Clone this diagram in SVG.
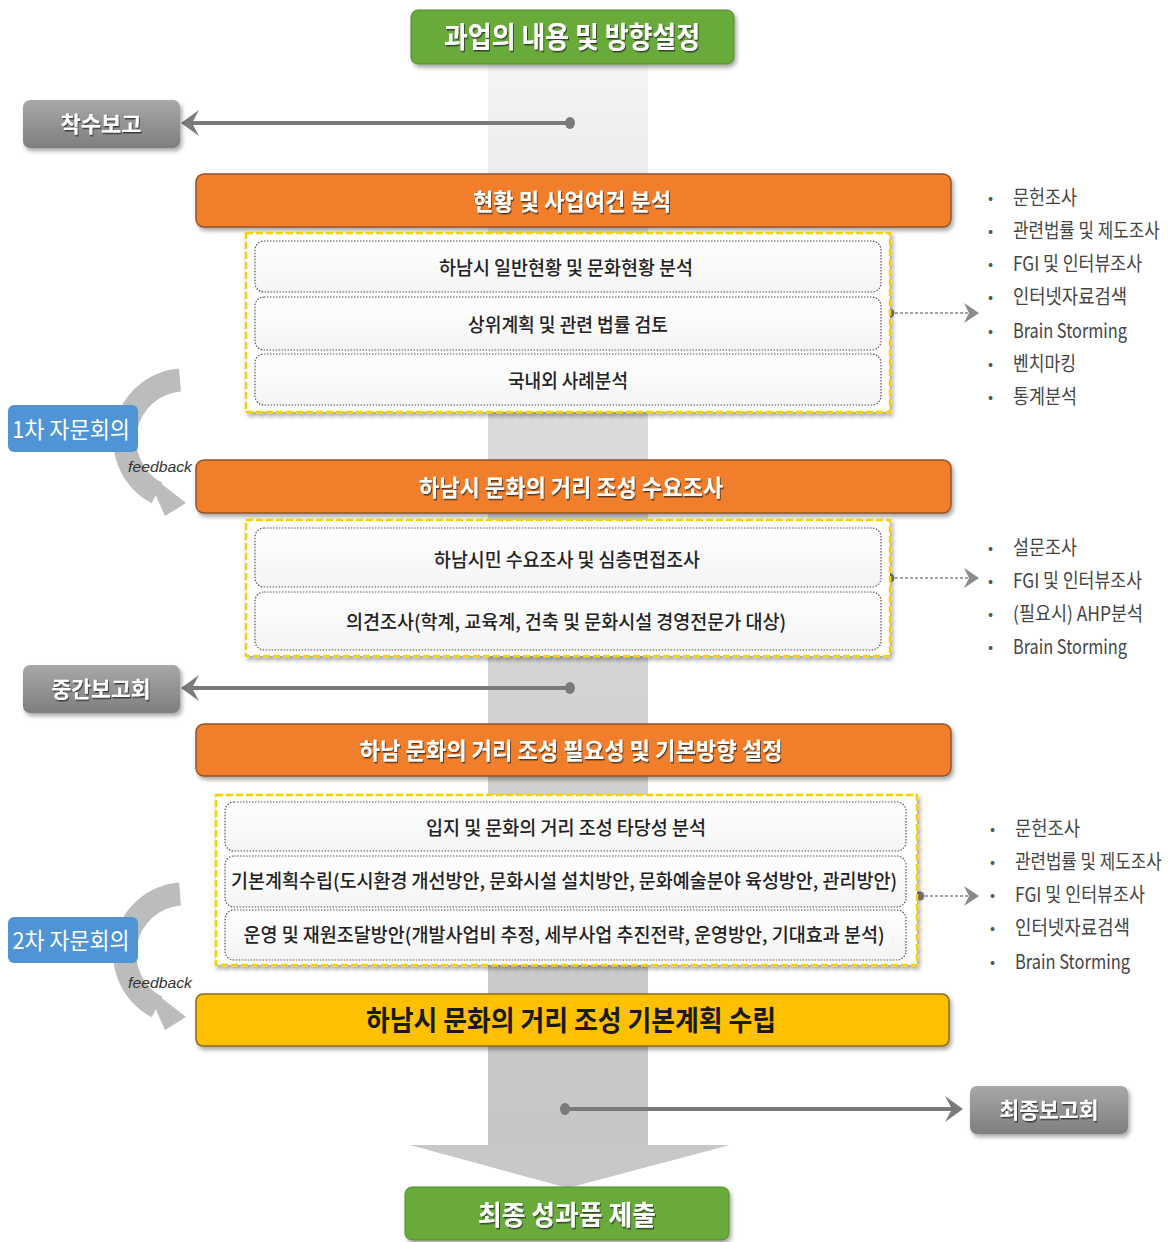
<svg xmlns="http://www.w3.org/2000/svg" width="1173" height="1242" viewBox="0 0 1173 1242">
<defs>
<linearGradient id="colGrad" x1="0" y1="0" x2="0" y2="1">
<stop offset="0" stop-color="#f5f5f7"/>
<stop offset="0.3" stop-color="#dcdcdc"/>
<stop offset="1" stop-color="#c6c6c6"/>
</linearGradient>
<linearGradient id="grayBox" x1="0" y1="0" x2="0" y2="1">
<stop offset="0" stop-color="#a8a8a8"/>
<stop offset="1" stop-color="#7e7e7e"/>
</linearGradient>
<linearGradient id="innerGrad" x1="0" y1="0" x2="0" y2="1">
<stop offset="0" stop-color="#ffffff"/>
<stop offset="1" stop-color="#f4f4f4"/>
</linearGradient>
<filter id="boxShadow" x="-10%" y="-30%" width="120%" height="170%">
<feDropShadow dx="2" dy="3" stdDeviation="2" flood-color="#000" flood-opacity="0.35"/>
</filter>
<filter id="txtShadow" x="-5%" y="-20%" width="110%" height="150%">
<feDropShadow dx="1" dy="1.5" stdDeviation="0.6" flood-color="#222" flood-opacity="0.75"/>
</filter>
</defs>
<style>
text{font-family:"Noto Sans CJK KR","Noto Sans",sans-serif}
.wt{fill:#fff;filter:url(#txtShadow);font-weight:600}
.ct{text-anchor:middle}
.inner{fill:url(#innerGrad);stroke:#555;stroke-width:1.2;stroke-dasharray:1.5 1.5}
.it{fill:#222;font-size:19px;text-anchor:middle;font-weight:500}
.yc{fill:#fff;stroke:#f2d300;stroke-width:2.5;stroke-dasharray:7 3;filter:url(#boxShadow)}
.orange{fill:#f07e2c;stroke:#93532a;stroke-width:1.5;filter:url(#boxShadow)}
.green{fill:#68ab3b;stroke:#4e8a2b;stroke-width:1;filter:url(#boxShadow)}
.gbox{fill:url(#grayBox);filter:url(#boxShadow)}
.blue{fill:#4f95d6}
.bl{fill:#444;font-size:20px}
.bu{fill:#555;font-size:15px}
.rep{stroke:#7a7a7a;stroke-width:4;fill:none}
.dash{stroke:#888;stroke-width:1.3;stroke-dasharray:3 2;fill:none}
.chev{fill:#7a7a7a}
.fb{fill:none;stroke:#bcbcbc;stroke-width:23}
.fbh{fill:#bcbcbc}
.fbt{font-family:"Liberation Sans",Arial,sans-serif;font-style:italic;font-size:15px;fill:#333}
</style>

<g id="column">
<rect x="488" y="60" width="160" height="1086" fill="url(#colGrad)"/>
<polygon points="410,1145 730,1145 568,1188" fill="#c8c8c8"/>
</g>

<g id="connectors">
<line class="rep" x1="570" y1="123" x2="188" y2="123"/>
<ellipse cx="570" cy="123" rx="5" ry="6" fill="#7a7a7a"/>
<polygon class="chev" points="181,123 199,110 192,123 199,136"/>
<line class="rep" x1="570" y1="688" x2="188" y2="688"/>
<ellipse cx="570" cy="688" rx="5" ry="6" fill="#7a7a7a"/>
<polygon class="chev" points="181,688 199,675 192,688 199,701"/>
<line class="rep" x1="565" y1="1109" x2="956" y2="1109"/>
<ellipse cx="565" cy="1109" rx="5" ry="6" fill="#7a7a7a"/>
<polygon class="chev" points="963,1109 945,1096 952,1109 945,1122"/>
<line class="dash" x1="890" y1="313" x2="976" y2="313"/>
<circle cx="890" cy="313" r="4.5" fill="#7a7a7a"/>
<polygon points="979,313 964,303 969,313 964,323" fill="#8a8a8a"/>
<line class="dash" x1="890" y1="578" x2="976" y2="578"/>
<circle cx="890" cy="578" r="4.5" fill="#7a7a7a"/>
<polygon points="979,578 964,568 969,578 964,588" fill="#8a8a8a"/>
<line class="dash" x1="920" y1="896" x2="976" y2="896"/>
<circle cx="920" cy="896" r="4.5" fill="#7a7a7a"/>
<polygon points="979,896 964,886 969,896 964,906" fill="#8a8a8a"/>
<g id="feedback1">
<path class="fb" d="M 180 380 A 60 60 0 0 0 157 493"/>
<polygon class="fbh" points="145,471 186,503 165,516"/>
<text class="fbt" x="128" y="472" textLength="64" lengthAdjust="spacingAndGlyphs">feedback</text>
</g>
<g id="feedback2" transform="translate(0,514)">
<path class="fb" d="M 180 380 A 60 60 0 0 0 157 493"/>
<polygon class="fbh" points="145,471 186,503 165,516"/>
<text class="fbt" x="128" y="474" textLength="64" lengthAdjust="spacingAndGlyphs">feedback</text>
</g>
</g>

<g id="n-top">
<rect class="green" x="411" y="10" width="323" height="54" rx="7"/>
<text class="wt ct" x="572" y="48" font-size="29" textLength="256" lengthAdjust="spacingAndGlyphs">과업의 내용 및 방향설정</text>
</g>

<g id="n-start-report">
<rect class="gbox" x="23" y="100" width="157" height="48" rx="7"/>
<text class="wt ct" x="101" y="132" font-size="22" textLength="81" lengthAdjust="spacingAndGlyphs">착수보고</text>
</g>

<g id="n-stage1">
<rect class="orange" x="196" y="174" width="755" height="53" rx="8"/>
<text class="wt ct" x="572" y="210" font-size="23" textLength="198" lengthAdjust="spacingAndGlyphs">현황 및 사업여건 분석</text>
</g>

<g id="n-stage1-items">
<rect class="yc" x="246" y="233" width="644" height="179"/>
<rect class="inner" x="255" y="241" width="626" height="51" rx="9"/>
<text class="it" x="566" y="275" textLength="254" lengthAdjust="spacingAndGlyphs">하남시 일반현황 및 문화현황 분석</text>
<rect class="inner" x="255" y="297" width="626" height="53" rx="9"/>
<text class="it" x="568" y="332" textLength="200" lengthAdjust="spacingAndGlyphs">상위계획 및 관련 법률 검토</text>
<rect class="inner" x="255" y="354" width="626" height="51" rx="9"/>
<text class="it" x="568" y="388" textLength="120" lengthAdjust="spacingAndGlyphs">국내외 사례분석</text>
</g>

<g id="n-methods1">
<text class="bu" x="988" y="203">•</text>
<text class="bl" x="1013" y="205" textLength="64" lengthAdjust="spacingAndGlyphs">문헌조사</text>
<text class="bu" x="988" y="236">•</text>
<text class="bl" transform="translate(1013,238) scale(0.78,1)" x="0" y="0" textLength="188" lengthAdjust="spacingAndGlyphs">관련법률 및 제도조사</text>
<text class="bu" x="988" y="269">•</text>
<text class="bl" x="1013" y="271" textLength="129" lengthAdjust="spacingAndGlyphs">FGI 및 인터뷰조사</text>
<text class="bu" x="988" y="302">•</text>
<text class="bl" x="1013" y="304" textLength="114" lengthAdjust="spacingAndGlyphs">인터넷자료검색</text>
<text class="bu" x="988" y="336">•</text>
<text class="bl" x="1013" y="338" textLength="114" lengthAdjust="spacingAndGlyphs">Brain Storming</text>
<text class="bu" x="988" y="369">•</text>
<text class="bl" x="1013" y="371" textLength="63" lengthAdjust="spacingAndGlyphs">벤치마킹</text>
<text class="bu" x="988" y="402">•</text>
<text class="bl" x="1013" y="404" textLength="64" lengthAdjust="spacingAndGlyphs">통계분석</text>
</g>

<g id="n-advisory1">
<rect class="blue" x="8" y="405" width="130" height="47" rx="6"/>
<text class="ct" x="71" y="438" font-size="23" fill="#fff" textLength="118" lengthAdjust="spacingAndGlyphs">1차 자문회의</text>
</g>

<g id="n-stage2">
<rect class="orange" x="196" y="460" width="755" height="53" rx="8"/>
<text class="wt ct" x="571" y="496" font-size="23" textLength="304" lengthAdjust="spacingAndGlyphs">하남시 문화의 거리 조성 수요조사</text>
</g>

<g id="n-stage2-items">
<rect class="yc" x="246" y="520" width="644" height="136"/>
<rect class="inner" x="255" y="528" width="626" height="59" rx="9"/>
<text class="it" x="567" y="567" textLength="266" lengthAdjust="spacingAndGlyphs">하남시민 수요조사 및 심층면접조사</text>
<rect class="inner" x="255" y="592" width="626" height="58" rx="9"/>
<text class="it" x="566" y="629" textLength="440" lengthAdjust="spacingAndGlyphs">의견조사(학계, 교육계, 건축 및 문화시설 경영전문가 대상)</text>
</g>

<g id="n-methods2">
<text class="bu" x="988" y="553">•</text>
<text class="bl" x="1013" y="555" textLength="64" lengthAdjust="spacingAndGlyphs">설문조사</text>
<text class="bu" x="988" y="586">•</text>
<text class="bl" x="1013" y="588" textLength="129" lengthAdjust="spacingAndGlyphs">FGI 및 인터뷰조사</text>
<text class="bu" x="988" y="619">•</text>
<text class="bl" x="1013" y="621" textLength="130" lengthAdjust="spacingAndGlyphs">(필요시) AHP분석</text>
<text class="bu" x="988" y="652">•</text>
<text class="bl" x="1013" y="654" textLength="114" lengthAdjust="spacingAndGlyphs">Brain Storming</text>
</g>

<g id="n-mid-report">
<rect class="gbox" x="23" y="665" width="157" height="48" rx="7"/>
<text class="wt ct" x="101" y="697" font-size="22" textLength="99" lengthAdjust="spacingAndGlyphs">중간보고회</text>
</g>

<g id="n-stage3">
<rect class="orange" x="196" y="724" width="755" height="52" rx="8"/>
<text class="wt ct" x="571" y="759" font-size="23" textLength="423" lengthAdjust="spacingAndGlyphs">하남 문화의 거리 조성 필요성 및 기본방향 설정</text>
</g>

<g id="n-stage3-items">
<rect class="yc" x="216" y="795" width="701" height="170"/>
<rect class="inner" x="225" y="802" width="681" height="49" rx="9"/>
<text class="it" x="566" y="835" textLength="280" lengthAdjust="spacingAndGlyphs">입지 및 문화의 거리 조성 타당성 분석</text>
<rect class="inner" x="225" y="856" width="681" height="51" rx="9"/>
<text class="it" x="564" y="888" textLength="666" lengthAdjust="spacingAndGlyphs">기본계획수립(도시환경 개선방안, 문화시설 설치방안, 문화예술분야 육성방안, 관리방안)</text>
<rect class="inner" x="225" y="910" width="681" height="50" rx="9"/>
<text class="it" x="564" y="942" textLength="641" lengthAdjust="spacingAndGlyphs">운영 및 재원조달방안(개발사업비 추정, 세부사업 추진전략, 운영방안, 기대효과 분석)</text>
</g>

<g id="n-methods3">
<text class="bu" x="990" y="834">•</text>
<text class="bl" x="1015" y="836" textLength="65" lengthAdjust="spacingAndGlyphs">문헌조사</text>
<text class="bu" x="990" y="867">•</text>
<text class="bl" transform="translate(1015,869) scale(0.78,1)" x="0" y="0" textLength="188" lengthAdjust="spacingAndGlyphs">관련법률 및 제도조사</text>
<text class="bu" x="990" y="900">•</text>
<text class="bl" x="1015" y="902" textLength="130" lengthAdjust="spacingAndGlyphs">FGI 및 인터뷰조사</text>
<text class="bu" x="990" y="933">•</text>
<text class="bl" x="1015" y="935" textLength="115" lengthAdjust="spacingAndGlyphs">인터넷자료검색</text>
<text class="bu" x="990" y="967">•</text>
<text class="bl" x="1015" y="969" textLength="115" lengthAdjust="spacingAndGlyphs">Brain Storming</text>
</g>

<g id="n-advisory2">
<rect class="blue" x="8" y="917" width="130" height="46" rx="6"/>
<text class="ct" x="71" y="949" font-size="23" fill="#fff" textLength="117" lengthAdjust="spacingAndGlyphs">2차 자문회의</text>
</g>

<g id="n-plan">
<rect x="196" y="994" width="753" height="52" rx="7" fill="#ffc000" stroke="#8a6a1a" stroke-width="1.5" filter="url(#boxShadow)"/>
<text class="ct" x="571" y="1031" font-size="28" font-weight="bold" fill="#1a1a1a" textLength="410" lengthAdjust="spacingAndGlyphs">하남시 문화의 거리 조성 기본계획 수립</text>
</g>

<g id="n-final-report">
<rect class="gbox" x="970" y="1086" width="158" height="48" rx="7"/>
<text class="wt ct" x="1049" y="1118" font-size="22" textLength="99" lengthAdjust="spacingAndGlyphs">최종보고회</text>
</g>

<g id="n-final">
<rect class="green" x="405" y="1187" width="324" height="53" rx="7"/>
<text class="wt ct" x="567" y="1225" font-size="27" textLength="178" lengthAdjust="spacingAndGlyphs">최종 성과품 제출</text>
</g>
</svg>
